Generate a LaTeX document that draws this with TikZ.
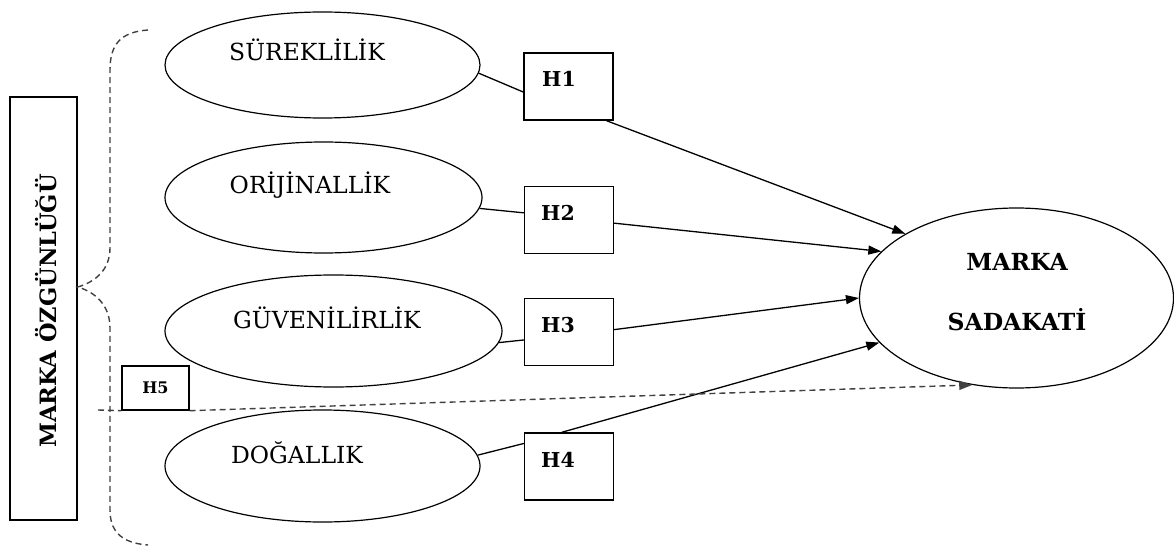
\documentclass[tikz,border=0pt]{standalone}
\usepackage{fontspec}
\setmainfont{DejaVu Serif}
\usetikzlibrary{arrows.meta,shapes.geometric}
\begin{document}
\begin{tikzpicture}[x=1pt,y=-1pt,
  ell/.style={draw,ellipse,line width=1.2pt,inner sep=0pt},
  hbox/.style={draw,rectangle,line width=1.4pt,minimum width=89pt,minimum height=67pt,inner sep=0pt},
  etext/.style={font=\fontsize{23.5}{26}\selectfont,inner sep=0pt},
  htext/.style={font=\fontsize{20.5}{23}\selectfont\bfseries,inner sep=0pt},
  conn/.style={line width=1.3pt},
  arr/.style={line width=1.3pt,-{Triangle[length=13pt,width=9pt]}},
  dsh/.style={line width=1.4pt,black!75,dash pattern=on 6pt off 4pt}]
\useasboundingbox (0,0) rectangle (1174,548);
% left box
\node[draw,line width=1.4pt,minimum width=67pt,minimum height=423pt,inner sep=0pt] (MO) at (43.5,308.5) {};
\node[rotate=90,font=\fontsize{22.5}{25}\selectfont\bfseries,inner sep=0pt] (MOt) at (46,311) {MARKA ÖZGÜNLÜĞÜ};
% brace
\coordinate (bt) at (148,30);
\coordinate (btip) at (MO.east |- 0,287);
\coordinate (bb) at (148,545);
\draw[dsh] (bt) .. controls (120,32) and (110,45) .. (110,70) -- (110,248)
  .. controls (110,270) and (95,282) .. (btip)
  .. controls (95,292) and (110,305) .. (110,328) -- (110,510)
  .. controls (110,530) and (120,543) .. (bb);
% ellipses
\node[ell,minimum width=315pt,minimum height=106pt] (E1) at (322.5,65) {};
\node[etext] (T1) at (307,50) {SÜREKLİLİK};
\node[ell,minimum width=317pt,minimum height=111pt] (E2) at (323.5,197.5) {};
\node[etext] (T2) at (310,185) {ORİJİNALLİK};
\node[ell,minimum width=337pt,minimum height=112pt] (E3) at (333.5,331) {};
\node[etext] (T3) at (327,318) {GÜVENİLİRLİK};
\node[ell,minimum width=315pt,minimum height=112pt] (E4) at (322.5,466) {};
\node[etext] (T4) at (297,453) {DOĞALLIK};
% right ellipse
\node[ell,minimum width=314pt,minimum height=180pt] (MS) at (1016.5,298) {};
\node[htext,font=\fontsize{23.5}{26}\selectfont\bfseries] (MSt1) at (1017,262) {MARKA};
\node[htext,font=\fontsize{23.5}{26}\selectfont\bfseries] (MSt2) at (1017,320) {SADAKATİ};
% H boxes
\node[hbox] (H1) at (568.5,86.5) {};
\node[htext] (H1t) at (559,79) {H1};
\node[hbox] (H2) at (569,220) {};
\node[htext] (H2t) at (558,213) {H2};
\node[hbox] (H3) at (569,332) {};
\node[htext] (H3t) at (558,325) {H3};
\node[hbox] (H4) at (569,466.5) {};
\node[htext] (H4t) at (558,460) {H4};
\node[draw,rectangle,line width=1.4pt,minimum width=67pt,minimum height=44pt,inner sep=0pt] (H5) at (155.5,388) {};
\node[htext,font=\fontsize{16}{18}\selectfont\bfseries] (H5t) at (155.5,388) {H5};
% connectors
\draw[conn] (E1.-3) -- (H1.187);
\draw[arr] (H1.-42) -- (MS.150);
\draw[conn] (E2.-4) -- (H2.171);
\draw[arr] (H2.-4) -- (MS.161);
\draw[conn] (E3.-4) -- (H3.190);
\draw[arr] (H3.3) -- (MS.180);
\draw[conn] (E4.4) -- (H4.153);
\draw[arr] (H4.102) -- (MS.198);
% H5 dashed
\coordinate (h5s) at (98,410);
\draw[dsh] (h5s) -- (H5.south west);
\draw[dsh,-{Triangle[length=13pt,width=9pt]}] (H5.south east) -- (MS.243);
\end{tikzpicture}
\end{document}
